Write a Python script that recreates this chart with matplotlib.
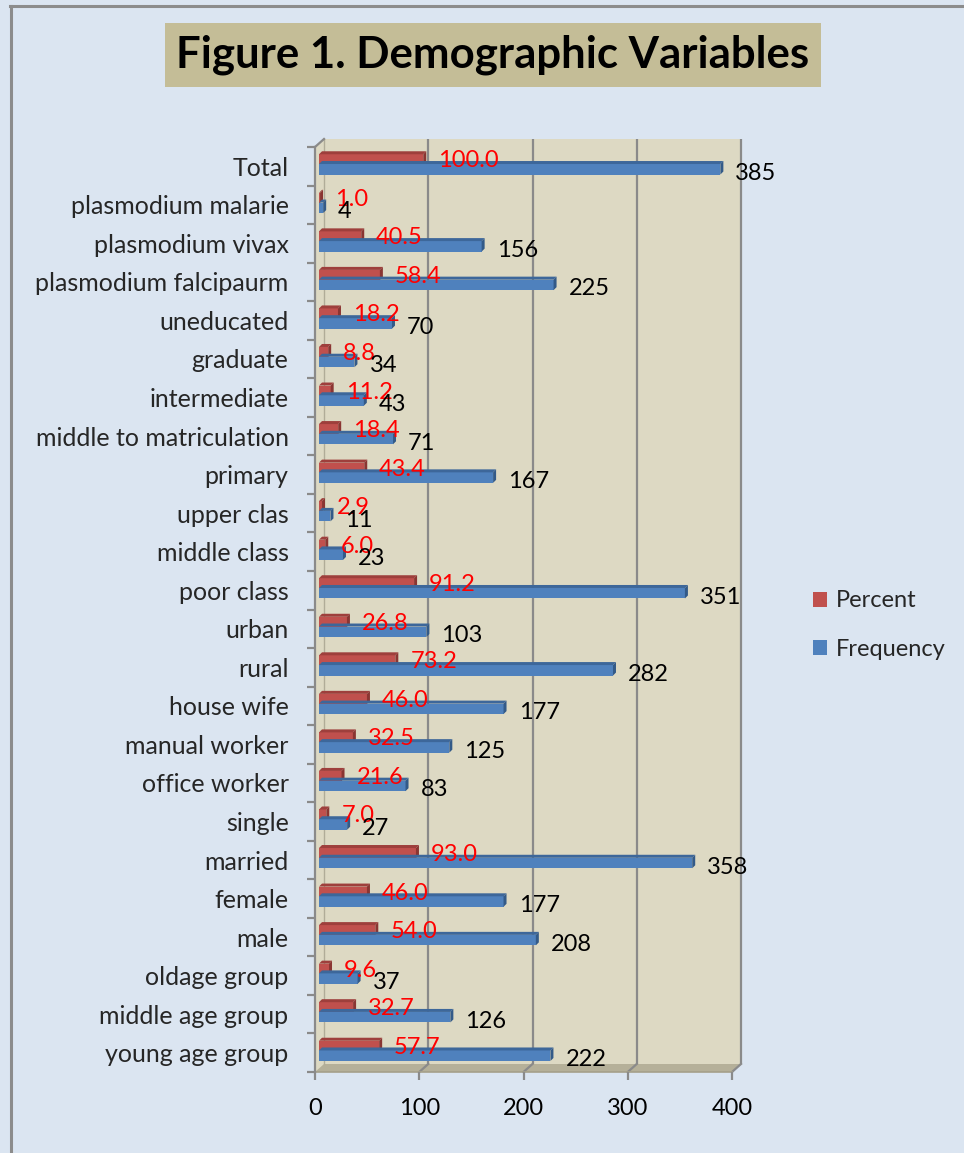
import matplotlib
matplotlib.use("Agg")
import matplotlib.pyplot as plt
from matplotlib.patches import Polygon, Rectangle, Patch
from matplotlib.lines import Line2D

# ---------------- data ----------------
categories = ["Total", "plasmodium malarie", "plasmodium vivax", "plasmodium falcipaurm",
              "uneducated", "graduate", "intermediate", "middle to matriculation", "primary",
              "upper clas", "middle class", "poor class", "urban", "rural", "house wife",
              "manual worker", "office worker", "single", "married", "female", "male",
              "oldage group", "middle age group", "young age group"]
frequency = [385, 4, 156, 225, 70, 34, 43, 71, 167, 11, 23, 351, 103, 282, 177, 125, 83,
             27, 358, 177, 208, 37, 126, 222]
percent = [100.0, 1.0, 40.5, 58.4, 18.2, 8.8, 11.2, 18.4, 43.4, 2.9, 6.0, 91.2, 26.8, 73.2,
           46.0, 32.5, 21.6, 7.0, 93.0, 46.0, 54.0, 9.6, 32.7, 57.7]
x_ticks = [0, 100, 200, 300, 400]
title = "Figure 1. Demographic Variables"

# ---------------- style ----------------
plt.rcParams['font.family'] = ['Lato', 'DejaVu Sans']
BG = "#DBE5F1"
WALL = "#DDD9C3"
FLOOR = "#B5B099"
GRID = "#8A8A8A"
RED, RED_TOP, RED_SIDE = "#C0504D", "#9E3F3C", "#8A3532"
BLUE, BLUE_TOP, BLUE_SIDE = "#4F81BD", "#3D679A", "#335A88"
FS = 17

W, H = 964, 1153
fig = plt.figure(figsize=(W / 100, H / 100), dpi=100, facecolor=BG)

# axes (front plane) in pixel geometry
L, R, T, B = 315, 732, 147, 1072
ax = fig.add_axes([L / W, (H - B) / H, (R - L) / W, (B - T) / H])
ax.set_facecolor("none")
n = len(categories)
ax.set_xlim(0, 400)
ax.set_ylim(-0.5, n - 0.5)
pxx = 400 / (R - L)        # data units per pixel (x)
pxy = n / (B - T)          # data units per pixel (y)

ypos = [n - 1 - i for i in range(n)]

# depth offsets (px)
DX, DY = 9, 8
ddx, ddy = DX * pxx, DY * pxy
y0, y1 = -0.5, n - 0.5

# back wall
wall = Polygon([(0, y0), (0, y1), (ddx, y1 + ddy), (400 + ddx, y1 + ddy),
                (400 + ddx, y0 + ddy), (0, y0)], closed=True,
               facecolor=WALL, edgecolor="none", zorder=0, clip_on=False)
ax.add_patch(wall)
# floor
floor = Polygon([(0, y0), (400, y0), (400 + ddx, y0 + ddy), (ddx, y0 + ddy)],
                closed=True, facecolor=FLOOR, edgecolor="none", zorder=0.5, clip_on=False)
ax.add_patch(floor)
# gridlines on wall and floor
for xt in x_ticks[1:]:
    ax.plot([xt + ddx, xt + ddx], [y0 + ddy, y1 + ddy], color=GRID, lw=1.6, zorder=0.6,
            solid_capstyle="butt", clip_on=False)
    ax.plot([xt, xt + ddx], [y0, y0 + ddy], color=GRID, lw=1.6, zorder=0.6, clip_on=False)
ax.plot([ddx, ddx], [y0 + ddy, y1 + ddy], color="#B0AC98", lw=1.0, zorder=0.6, clip_on=False)
ax.plot([0, ddx], [y1, y1 + ddy], color=GRID, lw=1.6, zorder=0.6, clip_on=False)
ax.plot([0, 400], [y0, y0], color="#A5A08A", lw=1.2, zorder=0.7, clip_on=False)

# ---------------- bars (3D boxes) ----------------
SH = 4 * pxx        # bars sit at mid depth
D = 3               # bar depth in px
dpx, dpy = D * pxx, D * pxy


def box(val, yc, h, front, top, side):
    x0 = SH
    x1 = SH + val
    yb, yt = yc - h / 2, yc + h / 2
    ax.add_patch(Rectangle((x0, yb), val, h, facecolor=front, edgecolor="none", zorder=2,
                           clip_on=False))
    ax.add_patch(Polygon([(x0, yt), (x1, yt), (x1 + dpx, yt + dpy), (x0 + dpx, yt + dpy)],
                         closed=True, facecolor=top, edgecolor="none", zorder=2,
                         clip_on=False))
    ax.add_patch(Polygon([(x1, yb), (x1, yt), (x1 + dpx, yt + dpy), (x1 + dpx, yb + dpy)],
                         closed=True, facecolor=side, edgecolor="none", zorder=2,
                         clip_on=False))


for yc, p, f in zip(ypos, percent, frequency):
    box(p, yc + 7 * pxy, 10 * pxy, RED, RED_TOP, RED_SIDE)
    box(f, yc - 3 * pxy, 10.5 * pxy, BLUE, BLUE_TOP, BLUE_SIDE)
    ax.annotate(f"{p:.1f}", xy=(SH + p, yc), xytext=(15 * 0.72, 5.5 * 0.72),
                textcoords="offset points", ha="left", va="center",
                color="#FF0000", fontsize=FS, zorder=3)
    ax.annotate(f"{f}", xy=(SH + f, yc), xytext=(15 * 0.72, -7 * 0.72),
                textcoords="offset points", ha="left", va="center",
                color="#000000", fontsize=FS, zorder=3)

# ---------------- axes ----------------
for s in ["top", "right", "bottom"]:
    ax.spines[s].set_visible(False)
ax.spines["left"].set_color(GRID)
ax.spines["left"].set_linewidth(1.6)

ax.set_yticks(ypos)
ax.set_yticklabels(categories, fontsize=18, color="#262626")
ax.tick_params(axis="y", which="major", length=0, pad=19)
ax.set_yticks([y0 + k for k in range(n + 1)], minor=True)
ax.tick_params(axis="y", which="minor", length=6, width=1.6, color=GRID, direction="out")

ax.set_xticks(x_ticks)
ax.set_xticklabels([str(v) for v in x_ticks], fontsize=FS, color="#000000")
ax.tick_params(axis="x", length=6, width=1.6, color=GRID, direction="out", pad=13)

# ---------------- title ----------------
fig.text(493 / W, 1 - 55 / H, title, fontsize=31.5, fontweight="bold", ha="center",
         va="center", color="black",
         bbox=dict(boxstyle="square,pad=0.27", facecolor="#C4BD97", edgecolor="none"))

# ---------------- legend ----------------
handles = [Patch(facecolor=RED, edgecolor="none"), Patch(facecolor=BLUE, edgecolor="none")]
fig.legend(handles, ["Percent", "Frequency"], loc="center left",
           bbox_to_anchor=(792 / W, 1 - 625 / H), frameon=False, fontsize=FS,
           handlelength=0.6, handleheight=0.6, handletextpad=0.35, labelspacing=1.15,
           labelcolor="#262626")

# ---------------- border ----------------
fig.add_artist(Line2D([10 / W, 1], [1 - 5.5 / H, 1 - 5.5 / H], color="#8C8C8C", lw=2.2,
                      transform=fig.transFigure))
fig.add_artist(Line2D([11 / W, 11 / W], [0, 1 - 5.5 / H], color="#8C8C8C", lw=2.2,
                      transform=fig.transFigure))

fig.savefig("out.png", dpi=100, facecolor=BG)
